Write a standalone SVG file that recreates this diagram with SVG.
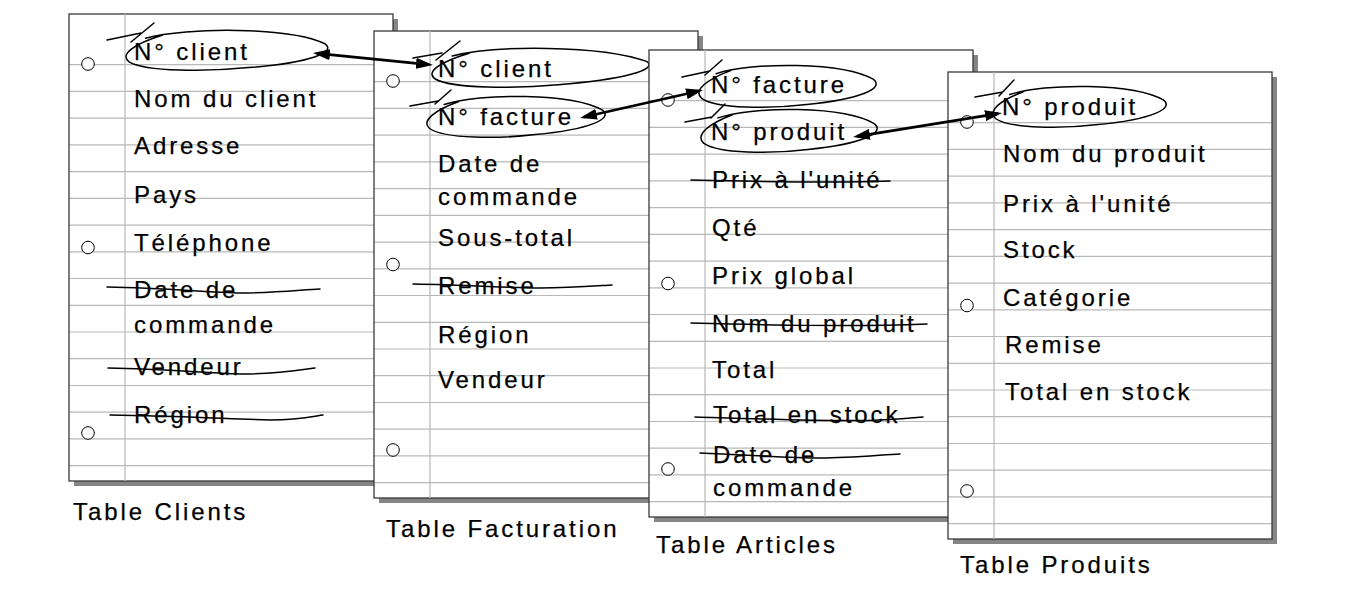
<svg xmlns="http://www.w3.org/2000/svg" xmlns:xlink="http://www.w3.org/1999/xlink" width="1345" height="591" viewBox="0 0 1345 591">
<style>
.shadow{fill:#858585}
.paper{fill:#fff}
.rule{stroke:#b8b8b8;stroke-width:1.2}
.border{fill:none;stroke:#3a3a3a;stroke-width:1.3}
.hole{fill:#fff;stroke:#000;stroke-width:1}
.t{font-family:"Liberation Sans",Arial,Helvetica,sans-serif;font-size:24px;letter-spacing:2.9px;fill:#000;stroke:#000;stroke-width:0.25}
.ink{fill:none;stroke:#000;stroke-width:1.5;stroke-linecap:round;stroke-linejoin:round}
.arrow{fill:none;stroke:#000;stroke-width:2.6;marker-start:url(#ah);marker-end:url(#ah)}
</style>
<defs>
<marker id="ah" viewBox="0 0 17 11" refX="13" refY="5.5" markerWidth="17" markerHeight="11" markerUnits="userSpaceOnUse" orient="auto-start-reverse">
<path d="M0,0 L17,5.5 L0,11 z" fill="#000"/>
</marker>
<g id="paper">
<rect class="shadow" x="5" y="5" width="324" height="467"/>
<rect class="paper" x="0" y="0" width="324" height="467"/>
<g class="rule">
<line x1="0" x2="324" y1="50.7" y2="50.7"/>
<line x1="0" x2="324" y1="77.4" y2="77.4"/>
<line x1="0" x2="324" y1="104.2" y2="104.2"/>
<line x1="0" x2="324" y1="130.9" y2="130.9"/>
<line x1="0" x2="324" y1="157.6" y2="157.6"/>
<line x1="0" x2="324" y1="184.4" y2="184.4"/>
<line x1="0" x2="324" y1="211.1" y2="211.1"/>
<line x1="0" x2="324" y1="237.8" y2="237.8"/>
<line x1="0" x2="324" y1="264.5" y2="264.5"/>
<line x1="0" x2="324" y1="291.3" y2="291.3"/>
<line x1="0" x2="324" y1="318" y2="318"/>
<line x1="0" x2="324" y1="344.7" y2="344.7"/>
<line x1="0" x2="324" y1="371.5" y2="371.5"/>
<line x1="0" x2="324" y1="398.2" y2="398.2"/>
<line x1="0" x2="324" y1="424.9" y2="424.9"/>
<line x1="0" x2="324" y1="451.7" y2="451.7"/>
</g>
<rect class="border" x="0" y="0" width="324" height="467"/>
<circle class="hole" cx="19" cy="50" r="6.3"/>
<circle class="hole" cx="19" cy="233.5" r="6.3"/>
<circle class="hole" cx="19" cy="419" r="6.3"/>
</g>
</defs>

<g id="table-clients">
<use href="#paper" x="69" y="14"/>
<line class="rule" x1="125" y1="14" x2="125" y2="481"/>
<path class="ink" d="M145.6,38.2 C186.8,26.9 289.8,26.9 324.8,43.7 C337.2,52.1 310.4,62.6 248.6,67.6 C207.4,71.8 145.6,71.8 129.1,61.8 C118.8,54.2 135.3,43.7 162.1,35.3"/>
<path class="ink" d="M107,40 L141,33 M131,42 L154,23"/>
<text class="t" x="134" y="60">N° client</text>
<text class="t" x="134" y="106.7">Nom du client</text>
<text class="t" x="134" y="154">Adresse</text>
<text class="t" x="134" y="202.7">Pays</text>
<text class="t" x="134" y="250.7">Téléphone</text>
<text class="t" x="134" y="298.3">Date de</text>
<text class="t" x="134" y="333">commande</text>
<text class="t" x="134" y="375">Vendeur</text>
<text class="t" x="134" y="422.7">Région</text>
<path class="ink" d="M107,287 C170,288 210,293 240,293 C275,293 300,290 320,289"/>
<path class="ink" d="M108,368 C170,369 215,374 245,374 C275,374 300,370 315,368"/>
<path class="ink" d="M110,415 C180,416 230,419 270,420 C300,420 315,416 323,415"/>
<text class="t" x="73" y="520">Table Clients</text>
</g>

<g id="table-facturation">
<use href="#paper" x="374" y="31"/>
<line class="rule" x1="430" y1="31" x2="430" y2="498"/>
<path class="ink" d="M452.2,56 C494.6,45 600.6,45 646.6,61.4 C659.4,69.6 621.8,79.8 558.2,84.7 C515.8,88.8 452.2,88.8 435.2,79 C424.6,71.6 441.6,61.4 469.2,53.2"/>
<path class="ink" d="M444.2,104.5 C480.6,92.9 571.6,92.9 602.5,110.1 C613.5,118.7 589.8,129.4 535.2,134.6 C498.8,138.9 444.2,138.9 429.6,128.5 C420.5,120.8 435.1,110.1 458.8,101.5"/>
<path class="ink" d="M413,58 L442,53 M436,60 L460,41"/>
<path class="ink" d="M410,106 L438,101 M435,104 L451,90"/>
<text class="t" x="438" y="76.7">N° client</text>
<text class="t" x="438" y="125">N° facture</text>
<text class="t" x="438" y="171.7">Date de</text>
<text class="t" x="438" y="204.5">commande</text>
<text class="t" x="438" y="245.7">Sous-total</text>
<text class="t" x="438" y="294.3">Remise</text>
<text class="t" x="438" y="342.7">Région</text>
<text class="t" x="438" y="388.3">Vendeur</text>
<path class="ink" d="M413,284 C470,285 510,288 540,288 C570,288 595,286 612,285"/>
<text class="t" x="386" y="536.7">Table Facturation</text>
</g>

<g id="table-articles">
<use href="#paper" x="649" y="50"/>
<line class="rule" x1="705" y1="50" x2="705" y2="517"/>
<path class="ink" d="M716.1,73.7 C752.3,61.8 842.8,61.8 873.6,79.4 C884.4,88.2 860.9,99.2 806.6,104.5 C770.4,108.9 716.1,108.9 701.6,98.3 C692.6,90.4 707.1,79.4 730.6,70.6"/>
<path class="ink" d="M718,117.9 C754,105.8 844,105.8 874.6,123.8 C885.4,132.8 862,144 808,149.4 C772,153.9 718,153.9 703.6,143.1 C694.6,135 709,123.8 732.4,114.8"/>
<path class="ink" d="M682,77 L710,71 M705,75 L722,60"/>
<path class="ink" d="M685,122 L712,117 M711,118 L725,104"/>
<text class="t" x="711" y="93.3">N° facture</text>
<text class="t" x="711" y="140">N° produit</text>
<text class="t" x="712" y="187.7">Prix à l'unité</text>
<text class="t" x="712" y="236">Qté</text>
<text class="t" x="712" y="284.3">Prix global</text>
<text class="t" x="712" y="331.7">Nom du produit</text>
<text class="t" x="712" y="378.3">Total</text>
<text class="t" x="713" y="422.7">Total en stock</text>
<text class="t" x="713" y="462.7">Date de</text>
<text class="t" x="713" y="496">commande</text>
<path class="ink" d="M691,180 C760,181 820,184 890,181"/>
<path class="ink" d="M691,323 C770,325 850,327 927,324"/>
<path class="ink" d="M695,417 C760,419 840,422 880,420 C900,419 912,418 923,417"/>
<path class="ink" d="M700,453 C750,455 790,458 820,458 C850,458 880,455 900,454"/>
<text class="t" x="656" y="553.3">Table Articles</text>
</g>

<g id="table-produits">
<use href="#paper" x="948" y="72"/>
<line class="rule" x1="994" y1="72" x2="994" y2="539"/>
<path class="ink" d="M1009.7,94.5 C1045.1,82.9 1133.6,82.9 1163.7,100.1 C1174.3,108.7 1151.3,119.4 1098.2,124.6 C1062.8,128.9 1009.7,128.9 995.5,118.5 C986.7,110.8 1000.9,100.1 1023.9,91.5"/>
<path class="ink" d="M975,97 L1003,92 M999,96 L1014,80"/>
<text class="t" x="1002" y="115">N° produit</text>
<text class="t" x="1003" y="162.3">Nom du produit</text>
<text class="t" x="1003" y="211.7">Prix à l'unité</text>
<text class="t" x="1003" y="257.7">Stock</text>
<text class="t" x="1003" y="305.7">Catégorie</text>
<text class="t" x="1005" y="352.7">Remise</text>
<text class="t" x="1005" y="400">Total en stock</text>
<text class="t" x="960" y="573.3">Table Produits</text>
</g>

<g id="connectors">
<path class="arrow" d="M317,53.4 L429,64.6"/>
<path class="arrow" d="M583.9,117.1 L699.1,90.9"/>
<path class="arrow" d="M857,136.4 L998,113.6"/>
</g>
</svg>
